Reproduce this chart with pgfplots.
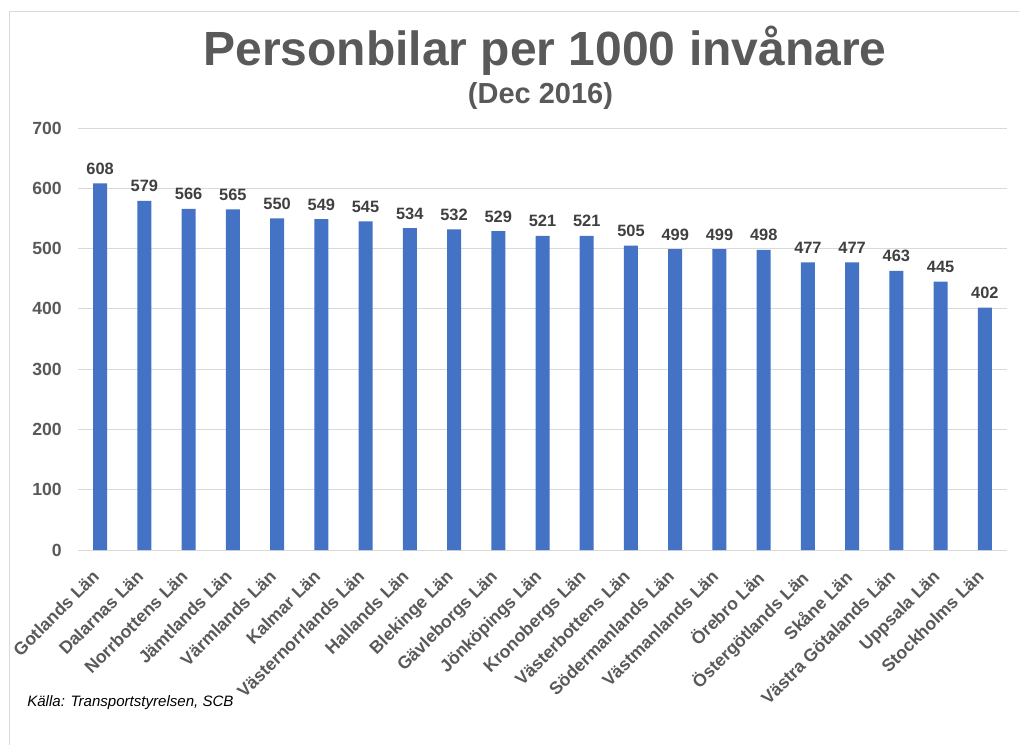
\documentclass[border=0pt]{standalone}
\usepackage{pgfplots}
\pgfplotsset{compat=1.18}
\usepackage{fontspec}
\setmainfont{Liberation Sans}
\definecolor{barblue}{HTML}{4472C4}
\definecolor{txtgray}{HTML}{595959}
\definecolor{lblgray}{HTML}{404040}
\definecolor{gridgray}{HTML}{D9D9D9}
\begin{document}
\begin{tikzpicture}
\useasboundingbox (-58.5pt,-145.5pt) rectangle (705.75pt,412.5pt);
\draw[gridgray,line width=0.75pt] (-51pt,-146pt) -- (-51pt,403.5pt) -- (706pt,403.5pt);
\begin{axis}[
  at={(0pt,0pt)}, anchor=south west,
  scale only axis, width=696.75pt, height=316.5pt,
  xmin=-0.5, xmax=20.5, ymin=0, ymax=700,
  ytick={0,100,...,700},
  xtick={0,...,20},
  xticklabels={Gotlands Län, Dalarnas Län, Norrbottens Län, Jämtlands Län, Värmlands Län, Kalmar Län, Västernorrlands Län, Hallands Län, Blekinge Län, Gävleborgs Län, Jönköpings Län, Kronobergs Län, Västerbottens Län, Södermanlands Län, Västmanlands Län, Örebro Län, Östergötlands Län, Skåne Län, Västra Götalands Län, Uppsala Län, Stockholms Län},
  axis line style={draw=none},
  major tick length=0pt,
  ymajorgrids, grid style={gridgray, line width=0.75pt},
  /pgf/number format/assume math mode=true,
  yticklabel style={font=\bfseries\fontsize{13.2}{15}\selectfont, text=txtgray, anchor=east, inner sep=0pt, xshift=-12pt},
  xticklabel style={font=\bfseries\fontsize{13.2}{15}\selectfont, text=txtgray, rotate=45, anchor=north east, inner sep=0pt, xshift=-14.5pt, yshift=-5pt},
  ybar, bar width=10.5pt,
  nodes near coords,
  every node near coord/.append style={font=\bfseries\fontsize{12.3}{14}\selectfont, text=lblgray, anchor=base, inner sep=0pt, yshift=6.75pt},
]
\addplot[fill=barblue, draw=none] coordinates {
(0,608) (1,579) (2,566) (3,565) (4,550) (5,549) (6,545) (7,534) (8,532) (9,529) (10,521) (11,521) (12,505) (13,499) (14,499) (15,498) (16,477) (17,477) (18,463) (19,445) (20,402)
};
\end{axis}
\node[anchor=base, text=txtgray, font=\bfseries\fontsize{36}{40}\selectfont, inner sep=0pt] at (350.25pt,363.75pt) {Personbilar per 1000 invånare};
\node[anchor=base, text=txtgray, font=\bfseries\fontsize{21.75}{24}\selectfont, inner sep=0pt] at (346.9pt,335.25pt) {(Dec 2016)};
\node[anchor=base west, font=\itshape\fontsize{11.3}{13}\selectfont, inner sep=0pt] at (-38.25pt,-117pt) {Källa: Transportstyrelsen, SCB};
\end{tikzpicture}
\end{document}
